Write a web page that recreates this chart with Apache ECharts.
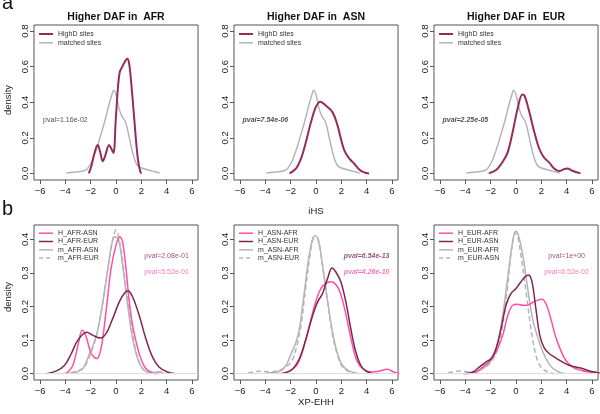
<!DOCTYPE html>
<html>
<head>
<meta charset="utf-8">
<script src="https://cdn.jsdelivr.net/npm/echarts@6/dist/echarts.min.js"></script>
<style>html,body{margin:0;padding:0;background:#fff}#c{width:600px;height:414px}</style>
</head>
<body>
<div id="c"></div>
<script>
// ---------- data ----------
const X_TICKS = [-6, -4, -2, 0, 2, 4, 6];
const Y_TICKS_A = [0, 0.2, 0.4, 0.6, 0.8];
const Y_TICKS_B = [0, 0.1, 0.2, 0.3, 0.4];

const TITLES_A = ['Higher DAF in  AFR', 'Higher DAF in  ASN', 'Higher DAF in  EUR'];
const LEGEND_A = ['HighD sites', 'matched sites'];
const PVAL_A = ['pval=1.16e-02', 'pval=7.54e-06', 'pval=2.25e-05'];
const PVAL_A_BOLD = [false, true, true];

// iHS densities (panel a)
const matchedIHS = [[-3.93,0.003],[-3.4,0.007],[-2.8,0.011],[-2.36,0.02],[-2.1,0.042],[-1.83,0.08],[-1.55,0.135],[-1.31,0.19],[-0.92,0.285],[-0.52,0.395],[-0.3,0.448],[-0.2,0.468],[-0.06,0.455],[0.08,0.42],[0.26,0.36],[0.47,0.322],[0.73,0.292],[0.9,0.25],[1.05,0.2],[1.31,0.12],[1.5,0.072],[1.7,0.045],[1.96,0.032],[2.62,0.018],[3.1,0.009],[3.45,0.002]];
const highAFR = [[-2.15,0],[-1.95,0.04],[-1.7,0.115],[-1.45,0.16],[-1.25,0.12],[-1.05,0.068],[-0.85,0.1],[-0.55,0.16],[-0.38,0.14],[-0.2,0.115],[-0.02,0.3],[0.15,0.48],[0.3,0.57],[0.5,0.6],[0.7,0.628],[0.88,0.645],[1.02,0.625],[1.15,0.55],[1.3,0.43],[1.45,0.3],[1.6,0.17],[1.75,0.07],[1.9,0.015],[2.0,0]];
const highASN = [[-2.09,0],[-1.57,0.028],[-1.18,0.084],[-0.79,0.178],[-0.39,0.29],[0,0.375],[0.34,0.403],[0.79,0.38],[1.31,0.343],[1.7,0.27],[1.96,0.197],[2.23,0.131],[2.62,0.084],[3.01,0.056],[3.4,0.024],[3.8,0.006],[4.19,0]];
const highEUR = [[-2.15,0],[-1.57,0.019],[-1.05,0.066],[-0.65,0.12],[-0.26,0.234],[0.13,0.365],[0.5,0.443],[0.68,0.436],[1.05,0.346],[1.44,0.234],[1.83,0.14],[2.23,0.088],[2.62,0.062],[3.01,0.028],[3.4,0.013],[3.8,0.024],[4.06,0.028],[4.45,0.015],[5.1,0]];

// XP-EHH densities (panel b)
const LEGEND_B = [
  ['H_AFR-ASN', 'H_AFR-EUR', 'm_AFR-ASN', 'm_AFR-EUR'],
  ['H_ASN-AFR', 'H_ASN-EUR', 'm_ASN-AFR', 'm_ASN-EUR'],
  ['H_EUR-AFR', 'H_EUR-ASN', 'm_EUR-AFR', 'm_EUR-ASN']
];
const PVAL_B_DARK = ['pval=2.08e-01', 'pval=6.54e-13', 'pval=1e+00'];
const PVAL_B_PINK = ['pval=5.52e-01', 'pval=4.26e-10', 'pval=6.52e-02'];
const PVAL_B_BOLD = [false, true, false];

const hAFR_ASN = [[-4.0,0],[-3.8,0.005],[-3.4,0.025],[-3.0,0.085],[-2.67,0.129],[-2.36,0.11],[-1.96,0.06],[-1.52,0.045],[-1.18,0.075],[-0.79,0.184],[-0.39,0.313],[0,0.383],[0.31,0.408],[0.52,0.393],[0.79,0.313],[1.05,0.214],[1.31,0.144],[1.62,0.09],[1.96,0.045],[2.36,0.015],[2.88,0.002],[3.27,0]];
const hAFR_EUR = [[-5.5,0],[-4.71,0.008],[-4.06,0.025],[-3.53,0.06],[-3.01,0.1],[-2.3,0.123],[-1.83,0.114],[-1.25,0.106],[-0.79,0.119],[-0.26,0.164],[0.26,0.214],[0.65,0.239],[0.95,0.247],[1.31,0.229],[1.83,0.174],[2.36,0.104],[2.88,0.05],[3.4,0.02],[4.06,0.005],[4.71,0]];
const mAFR_ASN = [[-3.93,0],[-3.14,0.005],[-2.62,0.015],[-2.09,0.06],[-1.8,0.085],[-1.5,0.12],[-1.31,0.154],[-0.92,0.244],[-0.52,0.343],[-0.26,0.398],[-0.08,0.408],[0.21,0.398],[0.52,0.323],[0.92,0.204],[1.31,0.104],[1.7,0.045],[2.09,0.015],[2.49,0.005],[3.0,0.003],[3.4,0.006],[3.8,0]];
const mAFR_EUR = [[-4.2,0],[-3.5,0.004],[-3,0.008],[-2.5,0.02],[-2,0.06],[-1.5,0.12],[-1,0.22],[-0.5,0.35],[-0.2,0.41],[0,0.428],[0.2,0.41],[0.5,0.34],[1,0.2],[1.5,0.08],[2,0.02],[2.5,0.005],[3.2,0.003],[3.6,0]];

const hASN_AFR = [[-2.75,0],[-2.09,0.008],[-1.44,0.03],[-0.92,0.085],[-0.52,0.144],[-0.13,0.2],[0.26,0.244],[0.65,0.266],[1.18,0.274],[1.7,0.259],[2.09,0.219],[2.49,0.154],[2.88,0.085],[3.27,0.035],[3.8,0.012],[4.45,0.005],[4.97,0.007],[5.63,0.013],[6.15,0.005],[6.6,0]];
const hASN_EUR = [[-2.75,0],[-1.96,0.01],[-1.31,0.045],[-0.79,0.104],[-0.26,0.174],[0.13,0.214],[0.52,0.239],[0.92,0.284],[1.26,0.315],[1.57,0.303],[1.96,0.274],[2.36,0.214],[2.75,0.134],[3.14,0.065],[3.53,0.025],[3.93,0.008],[4.45,0]];
const mASN_AFR = [[-3.93,0.002],[-2.88,0.007],[-2.36,0.025],[-1.96,0.06],[-1.62,0.09],[-1.31,0.134],[-0.92,0.244],[-0.58,0.343],[-0.26,0.403],[-0.05,0.411],[0.21,0.393],[0.52,0.323],[0.92,0.214],[1.31,0.124],[1.7,0.06],[2.09,0.025],[2.62,0.008],[3.4,0]];
const mASN_EUR = [[-5.37,0.002],[-4.45,0.007],[-3.66,0.005],[-2.62,0.015],[-1.96,0.035],[-1.57,0.075],[-1.18,0.144],[-0.79,0.264],[-0.39,0.373],[-0.13,0.405],[0.13,0.403],[0.47,0.333],[0.92,0.214],[1.31,0.114],[1.7,0.055],[2.09,0.02],[2.62,0.005],[3.14,0]];

const hEUR_AFR = [[-3.93,0],[-3.14,0.005],[-2.62,0.02],[-2.09,0.037],[-1.57,0.065],[-1.05,0.114],[-0.65,0.174],[-0.26,0.204],[0.13,0.207],[0.52,0.204],[0.92,0.204],[1.31,0.212],[1.7,0.219],[2.04,0.222],[2.36,0.209],[2.75,0.164],[3.14,0.109],[3.53,0.07],[3.93,0.04],[4.45,0.02],[5.1,0.01],[5.76,0.005],[6.6,0.002]];
const hEUR_ASN = [[-4.06,0],[-3.4,0.005],[-2.88,0.02],[-2.36,0.035],[-1.96,0.045],[-1.57,0.075],[-1.18,0.134],[-0.79,0.204],[-0.39,0.239],[0,0.254],[0.39,0.274],[0.73,0.289],[0.99,0.294],[1.26,0.274],[1.57,0.194],[1.88,0.114],[2.23,0.077],[2.62,0.06],[3.14,0.047],[3.66,0.035],[4.19,0.025],[4.71,0.02],[5.24,0.015],[5.89,0.007],[6.6,0.002]];
const mEUR_AFR = [[-4.19,0],[-3.4,0.003],[-2.62,0.015],[-1.96,0.04],[-1.44,0.095],[-1.05,0.174],[-0.73,0.264],[-0.39,0.363],[-0.13,0.418],[0,0.425],[0.26,0.403],[0.58,0.343],[0.92,0.254],[1.31,0.164],[1.83,0.095],[2.36,0.045],[2.88,0.017],[3.53,0.003],[3.93,0]];
const mEUR_ASN = [[-5.37,0.002],[-4.45,0.008],[-3.66,0.005],[-2.62,0.015],[-1.96,0.035],[-1.44,0.075],[-1.05,0.144],[-0.65,0.264],[-0.31,0.383],[-0.05,0.42],[0.13,0.41],[0.39,0.353],[0.79,0.244],[1.18,0.134],[1.57,0.055],[1.96,0.02],[2.49,0.005],[3.01,0]];

// ---------- styles ----------
const FONT = 'Liberation Sans, Arial, Helvetica, sans-serif';
const MAROON_A = '#952C5C';
const MAROON_B = '#7E2752';
const PINK = '#FF4FA8';
const GRAY = '#B5B5B5';
const AXIS = '#555';
const TEXT = '#222';

const PANEL_W = 200;
const BOX_L = 34, BOX_W = 164, BOX_H = 155;
const TOP_A = 25, TOP_B = 225;

const grids = [], xAxes = [], yAxes = [], series = [], graphics = [];

function fmtX(v) { return String(v).replace('-', '\u2212'); }

function addPanel(row, col) {
  const idx = grids.length;
  const top = row === 0 ? TOP_A : TOP_B;
  grids.push({ left: BOX_L + col * PANEL_W, top: top, width: BOX_W, height: BOX_H,
    show: true, borderColor: AXIS, borderWidth: 1, backgroundColor: 'transparent' });
  xAxes.push({ type: 'value', gridIndex: idx, min: -6.48, max: 6.48, position: 'bottom',
    axisLine: { show: false, onZero: false }, splitLine: { show: false },
    axisTick: { show: true, length: 4, customValues: X_TICKS, lineStyle: { color: AXIS } },
    axisLabel: { customValues: X_TICKS, formatter: fmtX, margin: 6, color: TEXT, fontSize: 9.5, fontFamily: FONT } });
  const yt = row === 0 ? Y_TICKS_A : Y_TICKS_B;
  yAxes.push({ type: 'value', gridIndex: idx, position: 'left',
    min: row === 0 ? -0.037 : -0.019, max: row === 0 ? 0.834 : 0.443,
    axisLine: { show: false, onZero: false }, splitLine: { show: false },
    axisTick: { show: true, length: 4, customValues: yt, lineStyle: { color: AXIS } },
    axisLabel: { customValues: yt, formatter: v => v.toFixed(1), rotate: 90, margin: 4, color: TEXT, fontSize: 9.5, fontFamily: FONT } });
  return idx;
}

function line(idx, name, data, color, width, dashed) {
  return { type: 'line', name: name, xAxisIndex: idx, yAxisIndex: idx, data: data,
    smooth: 0.35, symbol: 'none', clip: true, silent: true, z: 3,
    lineStyle: { color: color, width: width, type: dashed ? [5, 3] : 'solid' },
    itemStyle: { color: color } };
}

function label(idx, x, y, text, color, bold) {
  return { type: 'scatter', xAxisIndex: idx, yAxisIndex: idx, data: [[x, y]],
    symbolSize: 1, silent: true, z: 5, itemStyle: { color: 'rgba(0,0,0,0)' },
    label: { show: true, position: 'inside', formatter: text, color: color,
      fontSize: 7, fontFamily: FONT, fontWeight: bold ? 'bold' : 'normal', fontStyle: bold ? 'italic' : 'normal' } };
}

// hand-drawn legend (line key + text), like R's legend()
function legend(col, row, items) {
  const x0 = BOX_L + 5 + col * PANEL_W;
  const y0 = (row === 0 ? TOP_A : TOP_B) + (row === 0 ? 9 : 8.2);
  const step = row === 0 ? 8.8 : 8.3;
  items.forEach((it, k) => {
    const y = y0 + k * step;
    graphics.push({ type: 'line', silent: true, z: 10,
      shape: { x1: x0, y1: y, x2: x0 + 14, y2: y },
      style: { stroke: it.color, lineWidth: it.width, lineDash: it.dashed ? [4, 3] : null } });
    graphics.push({ type: 'text', silent: true, z: 10, x: x0 + 19, y: y,
      style: { text: it.name, fontSize: 7, fontFamily: FONT, fill: '#333', align: 'left', verticalAlign: 'middle' } });
  });
}

// panel a
const highA = [highAFR, highASN, highEUR];
for (let c = 0; c < 3; c++) {
  const i = addPanel(0, c);
  series.push(line(i, LEGEND_A[1], matchedIHS, GRAY, 1.5, false));
  series.push(line(i, LEGEND_A[0], highA[c], MAROON_A, 2, false));
  series.push(label(i, -4, 0.3, PVAL_A[c], TEXT, PVAL_A_BOLD[c]));
  legend(c, 0, [{ name: LEGEND_A[0], color: MAROON_A, width: 2 }, { name: LEGEND_A[1], color: GRAY, width: 1.5 }]);
  graphics.push({ type: 'text', x: BOX_L + c * PANEL_W + BOX_W / 2, y: 17,
    style: { text: TITLES_A[c], fontSize: 10.5, fontWeight: 'bold', fontFamily: FONT, fill: '#111', align: 'center', verticalAlign: 'middle' } });
}
// panel b
const HB = [[hAFR_ASN, hAFR_EUR, mAFR_ASN, mAFR_EUR], [hASN_AFR, hASN_EUR, mASN_AFR, mASN_EUR], [hEUR_AFR, hEUR_ASN, mEUR_AFR, mEUR_ASN]];
for (let c = 0; c < 3; c++) {
  const i = addPanel(1, c);
  const n = LEGEND_B[c], d = HB[c];
  const s0 = line(i, n[2], d[2], GRAY, 1.5, false);
  s0.markLine = { silent: true, symbol: 'none', label: { show: false },
    lineStyle: { color: '#dcdcdc', width: 1, type: 'solid' }, data: [{ yAxis: 0 }] };
  series.push(s0);
  series.push(line(i, n[3], d[3], GRAY, 1.5, true));
  series.push(line(i, n[0], d[0], PINK, 1.5, false));
  series.push(line(i, n[1], d[1], MAROON_B, 1.5, false));
  series.push(label(i, 4, 0.35, PVAL_B_DARK[c], MAROON_B, PVAL_B_BOLD[c]));
  series.push(label(i, 4, 0.303, PVAL_B_PINK[c], PINK, PVAL_B_BOLD[c]));
  legend(c, 1, [{ name: n[0], color: PINK, width: 1.5 }, { name: n[1], color: MAROON_B, width: 1.5 },
                { name: n[2], color: GRAY, width: 1.5 }, { name: n[3], color: GRAY, width: 1.5, dashed: true }]);
}

// axis titles and panel letters
graphics.push({ type: 'text', x: BOX_L + PANEL_W + BOX_W / 2, y: 211,
  style: { text: 'iHS', fontSize: 9.5, fontFamily: FONT, fill: TEXT, align: 'center', verticalAlign: 'middle' } });
graphics.push({ type: 'text', x: BOX_L + PANEL_W + BOX_W / 2, y: 402,
  style: { text: 'XP-EHH', fontSize: 9.5, fontFamily: FONT, fill: TEXT, align: 'center', verticalAlign: 'middle' } });
graphics.push({ type: 'text', x: 8, y: 100, rotation: Math.PI / 2,
  style: { text: 'density', fontSize: 9.5, fontFamily: FONT, fill: TEXT, align: 'center', verticalAlign: 'middle' } });
graphics.push({ type: 'text', x: 8, y: 297, rotation: Math.PI / 2,
  style: { text: 'density', fontSize: 9.5, fontFamily: FONT, fill: TEXT, align: 'center', verticalAlign: 'middle' } });
graphics.push({ type: 'text', x: 2, y: -7,
  style: { text: 'a', fontSize: 20, fontFamily: FONT, fill: '#111', align: 'left', verticalAlign: 'top' } });
graphics.push({ type: 'text', x: 2, y: 199,
  style: { text: 'b', fontSize: 20, fontFamily: FONT, fill: '#111', align: 'left', verticalAlign: 'top' } });

const chart = echarts.init(document.getElementById('c'), null, { renderer: 'canvas' });
chart.setOption({
  animation: false,
  backgroundColor: '#fff',
  grid: grids, xAxis: xAxes, yAxis: yAxes, series: series,
  graphic: { elements: graphics }
});
</script>
</body>
</html>
